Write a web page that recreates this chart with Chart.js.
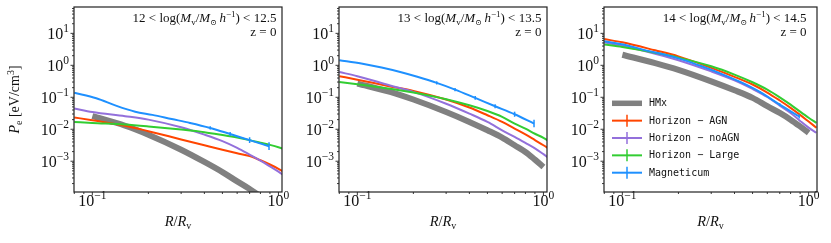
<!DOCTYPE html>
<html>
<head>
<meta charset="utf-8">
<script src="https://cdn.jsdelivr.net/npm/chart.js@4.4.1/dist/chart.umd.min.js"></script>
<style>
  html, body { margin: 0; padding: 0; background: #fff; }
  #wrap { position: relative; width: 831px; height: 243px; }
  canvas { position: absolute; top: 0; }
</style>
</head>
<body>
<div id="wrap">
  <canvas id="c1" width="290" height="243" style="left:0px"></canvas>
  <canvas id="c2" width="265" height="243" style="left:290px"></canvas>
  <canvas id="c3" width="276" height="243" style="left:555px"></canvas>
</div>
<script>
// radial grids, R / R_v
const radius    = [0.08, 0.1, 0.15, 0.2, 0.3, 0.4, 0.5, 0.6, 0.7, 0.8, 0.9, 1.0, 1.1];
const radiusMag = [0.08, 0.105, 0.135, 0.17, 0.21, 0.267, 0.335, 0.43, 0.55, 0.70, 0.89];
const radiusHmx = [0.1, 0.15, 0.2, 0.3, 0.4, 0.5, 0.6, 0.7, 0.8, 0.9, 1.0];

const seriesNames = ['HMx', 'Horizon \u2212 AGN', 'Horizon \u2212 noAGN', 'Horizon \u2212 Large', 'Magneticum'];

// mass bins (log M_v)
const massLow  = ['12', '13', '14'];
const massHigh = ['12.5', '13.5', '14.5'];
const redshift = 'z = 0';

// tick labels
const xTickValues = [0.1, 1];
const xTickExps   = ['\u22121', '0'];
const yTickValues = [10, 1, 0.1, 0.01, 0.001];
const yTickExps   = ['1', '0', '\u22121', '\u22122', '\u22123'];

// P_e [eV/cm^3], 12 < log M < 12.5
const hmx12   = [0.0257, 0.0129, 0.00676, 0.00229, 0.00095, 0.000457, 0.000234, 0.000135, 0.0000794, 0.0000447, 0.0000263];
const agn12   = [0.0234, 0.0191, 0.0129, 0.0087, 0.0048, 0.00316, 0.00229, 0.00178, 0.00145, 0.00107, 0.00079, 0.00058, 0.00042];
const noagn12 = [0.0447, 0.0347, 0.0257, 0.02, 0.0115, 0.0068, 0.00427, 0.00263, 0.00162, 0.00105, 0.00069, 0.00047, 0.00032];
const large12 = [0.017, 0.0158, 0.0141, 0.0123, 0.0098, 0.0081, 0.0066, 0.0055, 0.00457, 0.0038, 0.00324, 0.00275, 0.00229];
const mag12   = [0.138, 0.0933, 0.0537, 0.0355, 0.0282, 0.0209, 0.0158, 0.011, 0.0071, 0.00457, 0.00295];
const magErr12 = [0, 0, 0, 0, 0, 0, 0.03, 0.05, 0.06, 0.09, 0.12];   // dex

// 13 < log M < 13.5
const hmx13   = [0.269, 0.148, 0.0851, 0.0347, 0.017, 0.0093, 0.0055, 0.00316, 0.00195, 0.00112, 0.00066];
const agn13   = [0.457, 0.355, 0.219, 0.158, 0.0851, 0.0479, 0.0275, 0.017, 0.0105, 0.0069, 0.00457, 0.00316, 0.00219];
const noagn13 = [0.617, 0.457, 0.234, 0.148, 0.063, 0.0309, 0.017, 0.0093, 0.00575, 0.00372, 0.00251, 0.00166, 0.00112];
const large13 = [0.302, 0.257, 0.186, 0.141, 0.0871, 0.0562, 0.0372, 0.0245, 0.0151, 0.0105, 0.00724, 0.00537, 0.0038];
const mag13   = [1.45, 1.135, 0.851, 0.617, 0.437, 0.282, 0.174, 0.0955, 0.0525, 0.0295, 0.0151];
const magErr13 = [0, 0, 0, 0, 0, 0.05, 0.05, 0.06, 0.06, 0.08, 0.12];

// 14 < log M < 14.5
const hmx14   = [2.14, 1.175, 0.724, 0.316, 0.166, 0.0955, 0.0525, 0.0324, 0.02, 0.0123, 0.00776];
const agn14   = [6.61, 5.25, 2.95, 1.91, 0.832, 0.437, 0.251, 0.141, 0.0794, 0.0468, 0.0282, 0.0174, 0.0112];
const noagn14 = [5.25, 4.07, 2.29, 1.445, 0.646, 0.339, 0.182, 0.102, 0.055, 0.0324, 0.0182, 0.0112, 0.00776];
const large14 = [4.47, 3.72, 2.45, 1.74, 0.933, 0.513, 0.295, 0.174, 0.1, 0.0589, 0.0355, 0.0229, 0.0158];
const mag14   = [5.62, 4.27, 2.88, 2.14, 1.51, 0.933, 0.562, 0.302, 0.145, 0.0589, 0.0251];
const magErr14 = [0, 0, 0, 0, 0, 0, 0, 0.02, 0.03, 0.04, 0.06];

const colors = ['#808080', '#FF4500', '#9370DB', '#32CD32', '#1E90FF'];
const SERIF = '"Liberation Serif", "DejaVu Serif", serif';
const MONO = '"DejaVu Sans Mono", monospace';

function xy(xs, ys) { return ys.map((y, i) => ({ x: xs[i], y: y })); }

function drawRich(ctx, segs, x, y, align) {
  let w = 0;
  segs.forEach(s => { ctx.font = s.f; w += ctx.measureText(s.t).width; });
  let cx = align === 'right' ? x - w : align === 'center' ? x - w / 2 : x;
  ctx.textAlign = 'left';
  ctx.textBaseline = 'alphabetic';
  segs.forEach(s => {
    ctx.font = s.f;
    ctx.fillText(s.t, cx, y + (s.dy || 0));
    cx += ctx.measureText(s.t).width;
  });
}

const n = sz => sz + 'px ' + SERIF;
const it = sz => 'italic ' + sz + 'px ' + SERIF;

const decor = {
  id: 'decor',
  afterDatasetsDraw(chart) {
    const p = chart.options.plugins.decor;
    const ctx = chart.ctx, a = chart.chartArea, xs = chart.scales.x, ys = chart.scales.y;
    // Magneticum error bars
    ctx.save();
    ctx.beginPath(); ctx.rect(a.left, a.top, a.right - a.left, a.bottom - a.top); ctx.clip();
    ctx.strokeStyle = colors[4]; ctx.lineWidth = 1.5;
    p.mag.forEach((v, i) => {
      const e = p.magErr[i];
      if (!e) return;
      const px = xs.getPixelForValue(radiusMag[i]);
      ctx.beginPath();
      ctx.moveTo(px, ys.getPixelForValue(v * Math.pow(10, e)));
      ctx.lineTo(px, ys.getPixelForValue(v / Math.pow(10, e)));
      ctx.stroke();
    });
    ctx.restore();
  },
  afterDraw(chart) {
    const p = chart.options.plugins.decor;
    const ctx = chart.ctx, a = chart.chartArea, xs = chart.scales.x, ys = chart.scales.y;
    ctx.save();
    ctx.strokeStyle = '#222'; ctx.fillStyle = '#111';
    // frame
    ctx.lineWidth = 1.2;
    ctx.strokeRect(a.left, a.top, a.right - a.left, a.bottom - a.top);
    // ticks
    ctx.lineWidth = 0.9;
    for (let e = -5; e <= 2; e++) {
      for (let m = 1; m <= 9; m++) {
        const v = m * Math.pow(10, e);
        const len = m === 1 ? 3.5 : 2;
        if (v >= ys.min && v <= ys.max) {
          const py = ys.getPixelForValue(v);
          ctx.beginPath(); ctx.moveTo(a.left - len, py); ctx.lineTo(a.left, py); ctx.stroke();
        }
        if (v >= xs.min && v <= xs.max) {
          const px = xs.getPixelForValue(v);
          ctx.beginPath(); ctx.moveTo(px, a.bottom); ctx.lineTo(px, a.bottom + len); ctx.stroke();
        }
      }
    }
    // tick labels
    yTickValues.forEach((v, i) => {
      const py = ys.getPixelForValue(v);
      drawRich(ctx, [{ t: '10', f: n(16) }, { t: yTickExps[i], f: n(11.5), dy: -7 }], a.left - 5, py + 5.5, 'right');
    });
    xTickValues.forEach((v, i) => {
      const px = xs.getPixelForValue(v);
      drawRich(ctx, [{ t: '10', f: n(16) }, { t: xTickExps[i], f: n(11.5), dy: -7 }], px, a.bottom + 14, 'center');
    });
    // axis labels
    drawRich(ctx, [{ t: 'R', f: it(14.5) }, { t: '/', f: n(14.5) }, { t: 'R', f: it(14.5) }, { t: 'v', f: n(10), dy: 2.5 }],
      (a.left + a.right) / 2, 226, 'center');
    if (p.yLabel) {
      ctx.save();
      ctx.translate(14, (a.top + a.bottom) / 2);
      ctx.rotate(-Math.PI / 2);
      drawRich(ctx, [{ t: 'P', f: it(14) }, { t: 'e', f: n(10), dy: 2.5 }, { t: ' [eV/cm', f: n(14) },
        { t: '3', f: n(10), dy: -5.5 }, { t: ']', f: n(14) }], 0, 5, 'center');
      ctx.restore();
    }
    // mass bin annotation
    const tx = xs.getPixelForValue(0.975);
    drawRich(ctx, [
      { t: p.lo + ' < log(', f: n(13) }, { t: 'M', f: it(13) }, { t: 'v', f: n(9), dy: 2.5 },
      { t: '/', f: n(13) }, { t: 'M', f: it(13) }, { t: '\u2299', f: n(8), dy: 2.5 }, { t: '\u2009', f: n(13) },
      { t: 'h', f: it(13) }, { t: '\u22121', f: n(9), dy: -5 }, { t: ') < ' + p.hi, f: n(13) }
    ], tx, a.top + 15, 'right');
    drawRich(ctx, [{ t: redshift, f: n(13) }], tx, a.top + 29, 'right');
    // legend
    if (p.legend) {
      ctx.font = '10px ' + MONO;
      seriesNames.forEach((name, i) => {
        const cy = 103.3 + i * 17.35;
        const x0 = a.left + 8, x1 = a.left + 38;
        ctx.strokeStyle = colors[i];
        ctx.lineWidth = i === 0 ? 5.5 : 2;
        ctx.beginPath(); ctx.moveTo(x0, cy); ctx.lineTo(x1, cy); ctx.stroke();
        if (i > 0) {
          ctx.lineWidth = 1.5;
          ctx.beginPath(); ctx.moveTo((x0 + x1) / 2, cy - 6); ctx.lineTo((x0 + x1) / 2, cy + 6); ctx.stroke();
        }
        ctx.fillStyle = '#111';
        ctx.textAlign = 'left'; ctx.textBaseline = 'middle';
        ctx.fillText(name, a.left + 45, cy + 0.5);
      });
    }
    ctx.restore();
  }
};

function makePanel(id, k, hmx, agn, noagn, large, mag, magErr, opts) {
  const line = (label, xs, ys, c, w, order) => ({
    label: label, data: xy(xs, ys), borderColor: c, borderWidth: w, order: order,
    pointRadius: 0, fill: false, clip: 0, borderCapStyle: 'butt', cubicInterpolationMode: 'monotone'
  });
  new Chart(document.getElementById(id), {
    type: 'line',
    data: {
      datasets: [
        line(seriesNames[0], radiusHmx, hmx, colors[0], 6, 5),
        line(seriesNames[1], radius, agn, colors[1], 2, 4),
        line(seriesNames[2], radius, noagn, colors[2], 2, 3),
        line(seriesNames[3], radius, large, colors[3], 2, 2),
        line(seriesNames[4], radiusMag, mag, colors[4], 2, 1)
      ]
    },
    options: {
      responsive: false,
      animation: false,
      events: [],
      layout: { padding: { top: 7, right: opts.padRight, left: 0, bottom: 0 } },
      plugins: {
        legend: { display: false },
        tooltip: { enabled: false },
        decor: { lo: massLow[k], hi: massHigh[k], mag: mag, magErr: magErr, yLabel: opts.yLabel, legend: opts.legend }
      },
      scales: {
        x: {
          type: 'logarithmic', min: 0.0797, max: opts.xMax,
          ticks: { display: false }, grid: { display: false }, border: { display: false },
          afterFit: s => { s.height = 51; }
        },
        y: {
          type: 'logarithmic', min: 1.09e-4, max: 66.7,
          ticks: { display: false }, grid: { display: false }, border: { display: false },
          afterFit: s => { s.width = opts.yWidth; }
        }
      }
    },
    plugins: [decor]
  });
}

makePanel('c1', 0, hmx12, agn12, noagn12, large12, mag12, magErr12, { yWidth: 74, padRight: 8, xMax: 1.045, yLabel: true, legend: false });
makePanel('c2', 1, hmx13, agn13, noagn13, large13, mag13, magErr13, { yWidth: 49, padRight: 8, xMax: 1.045, yLabel: false, legend: false });
makePanel('c3', 2, hmx14, agn14, noagn14, large14, mag14, magErr14, { yWidth: 49, padRight: 14, xMax: 1.109, yLabel: false, legend: true });
</script>
</body>
</html>
